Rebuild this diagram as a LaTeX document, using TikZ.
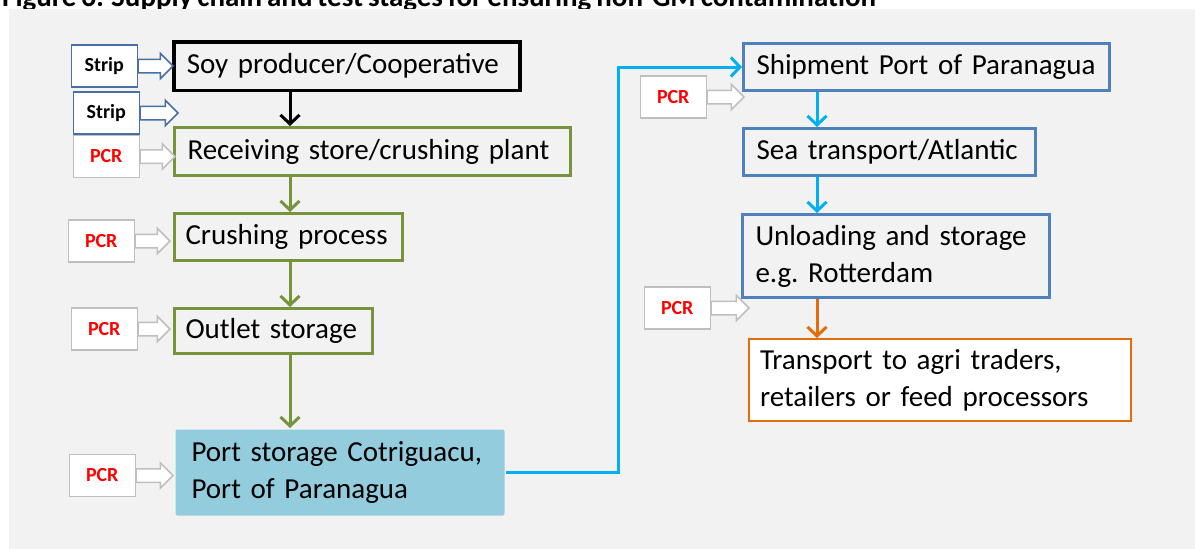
\documentclass[tikz,border=0pt]{standalone}
\usepackage{fontspec}
\setmainfont{Carlito}[WordSpace=0.75]
\usetikzlibrary{positioning,shapes.arrows,arrows.meta}
\hyphenpenalty=10000
\exhyphenpenalty=10000

\definecolor{panelgray}{HTML}{F2F2F2}
\definecolor{stagegreen}{HTML}{77933C}
\definecolor{boxblue}{HTML}{4F81BD}
\definecolor{stripblue}{HTML}{4A6FA5}
\definecolor{pcrgray}{HTML}{BFBFBF}
\definecolor{linkcyan}{HTML}{00B0F0}
\definecolor{portfill}{HTML}{93CDDD}
\definecolor{tradeorange}{HTML}{E46C0A}

\tikzset{
  stage/.style={draw, line width=3pt, anchor=north west, inner xsep=13pt, inner ysep=0pt,
    align=left, font=\fontsize{29}{37}\selectfont},
  testbox/.style={draw, line width=1.5pt, fill=white, minimum width=66pt, minimum height=42pt,
    inner sep=0pt, font=\bfseries\fontsize{20}{22}\selectfont},
  stripbox/.style={testbox, draw=stripblue, text=black},
  pcrbox/.style={testbox, draw=pcrgray, text=red},
  feedarrow/.style={single arrow, draw, fill=white, line width=1.5pt, minimum height=36pt,
    single arrow head extend=6pt, inner xsep=0pt, inner ysep=6pt},
  flow/.style={line width=3pt, -{Straight Barb[length=9pt, width=19pt]}},
}

\begin{document}
\begin{tikzpicture}[x=1pt, y=-1pt]
  \useasboundingbox (0,0) rectangle (1195,549);
  \clip (0,0) rectangle (1195,549);

  % caption, cut by the panel
  \node[anchor=base west, inner sep=0pt, font=\bfseries\fontsize{29}{30}\selectfont] (caption) at (2,6)
    {Figure 6: Supply chain and test stages for ensuring non-GM contamination};
  \fill[panelgray] (9,9) rectangle (1195,549);

  % Brazil side
  \node[stage, line width=3.5pt, text width=320pt, minimum height=48.5pt] (soy) at (172,40) {Soy~producer/Cooperative};
  \node[stage, draw=stagegreen, text width=370pt, minimum height=48pt, below right=34pt and 1pt of soy.south west] (recv) {Receiving~store/crushing~plant};
  \node[stage, draw=stagegreen, inner xsep=11pt, text width=206pt, minimum height=47pt, below right=35pt and 0pt of recv.south west] (crush) {Crushing~process};
  \node[stage, draw=stagegreen, inner xsep=11pt, text width=176pt, minimum height=45pt, below right=45pt and 0pt of crush.south west] (outlet) {Outlet~storage};
  \node[stage, draw=none, fill=portfill, rounded corners=2pt, inner xsep=16pt, text width=297pt, minimum height=86pt, below right=73pt and 1pt of outlet.south west] (port) {Port storage Cotriguacu,\\Port of Paranagua};

  % Europe side
  \node[stage, draw=boxblue, text width=340pt, minimum height=47pt] (ship) at (742,42) {Shipment~Port~of~Paranagua};
  \node[stage, draw=boxblue, text width=266pt, minimum height=47pt, below right=35pt and 0pt of ship.south west] (sea) {Sea~transport/Atlantic};
  \node[stage, draw=boxblue, text width=281pt, minimum height=83pt, below right=36pt and -1pt of sea.south west] (unload) {Unloading and storage\\e.g.\ Rotterdam};
  \node[stage, draw=tradeorange, line width=2pt, fill=white, inner xsep=11pt, text width=360pt, minimum height=82pt, below right=39pt and 7pt of unload.south west] (trade) {Transport to agri traders,\\retailers or feed processors};

  % test points
  \node[stripbox, left=34pt of soy] (strip1) {Strip};
  \node[pcrbox, left=33pt of recv, yshift=-5pt] (pcr1) {PCR};
  \node[stripbox, above=0pt of pcr1] (strip2) {Strip};
  \node[pcrbox, left=38pt of crush, yshift=-4pt] (pcr2) {PCR};
  \node[pcrbox, left=35pt of outlet, yshift=2pt] (pcr3) {PCR};
  \node[pcrbox, left=38pt of port, yshift=-3pt] (pcr4) {PCR};
  \node[pcrbox, left=35pt of ship, yshift=-30pt] (pcr5) {PCR};
  \node[pcrbox, left=30pt of unload, yshift=-52pt] (pcr6) {PCR};

  \node[feedarrow, draw=stripblue, minimum height=35pt, right=-0.75pt of strip1] (in1) {};
  \node[feedarrow, draw=stripblue, minimum height=38pt, right=-0.75pt of strip2] (in2) {};
  \node[feedarrow, draw=pcrgray, minimum height=35pt, right=-0.75pt of pcr1] (in3) {};
  \node[feedarrow, draw=pcrgray, minimum height=35pt, right=-0.75pt of pcr2] (in4) {};
  \node[feedarrow, draw=pcrgray, minimum height=32pt, right=-0.75pt of pcr3] (in5) {};
  \node[feedarrow, draw=pcrgray, minimum height=37pt, right=-0.75pt of pcr4] (in6) {};
  \node[feedarrow, draw=pcrgray, minimum height=37pt, right=-0.75pt of pcr5] (in7) {};
  \node[feedarrow, draw=pcrgray, minimum height=38pt, right=-0.75pt of pcr6] (in8) {};

  % flow of goods
  \coordinate (spine) at (290,0);
  \coordinate (spine2) at (817,0);
  \draw[flow] (soy.south -| spine) -- (recv.north -| spine);
  \draw[flow, stagegreen] (recv.south -| spine) -- (crush.north -| spine);
  \draw[flow, stagegreen] (crush.south -| spine) -- (outlet.north -| spine);
  \draw[flow, stagegreen] (outlet.south -| spine) -- (port.north -| spine);
  \draw[flow, linkcyan] (port.east) -- ++(112pt,0) |- (ship.west);
  \draw[flow, linkcyan] (ship.south -| spine2) -- (sea.north -| spine2);
  \draw[flow, linkcyan] (sea.south -| spine2) -- (unload.north -| spine2);
  \draw[flow, tradeorange] (unload.south -| spine2) -- (trade.north -| spine2);
\end{tikzpicture}
\end{document}
